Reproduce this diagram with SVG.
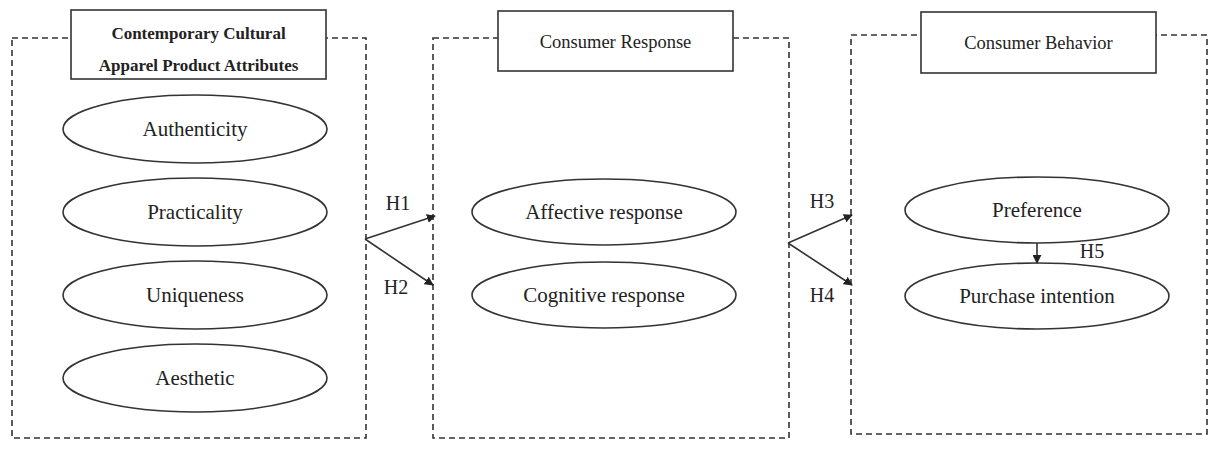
<svg xmlns="http://www.w3.org/2000/svg" width="1220" height="452" viewBox="0 0 1220 452">
<style>
.frame{fill:none;stroke:#333;stroke-width:1.6;stroke-dasharray:6,4}
.title{fill:#fff;stroke:#333;stroke-width:1.6}
.ell{fill:#fff;stroke:#333;stroke-width:1.6}
.t{font-family:"Liberation Serif","Times New Roman",serif;fill:#222;text-anchor:middle}
.et{font-size:21px}
.tt{font-size:18.5px}
.bt{font-size:17px;font-weight:bold}
.h{font-size:20px}
.conn{stroke:#333;stroke-width:1.6;fill:none}
</style>
<defs>
<marker id="ah" viewBox="0 0 10 10" refX="9" refY="5" markerWidth="9" markerHeight="9" markerUnits="userSpaceOnUse" orient="auto">
<path d="M0,0 L10,5 L0,10 z" fill="#222"/>
</marker>
</defs>
<g id="group-attributes">
<rect class="frame" x="12" y="38" width="354" height="400"/>
<rect class="title" x="71" y="10" width="255" height="69"/>
<text class="t bt" x="198.5" y="39">Contemporary Cultural</text>
<text class="t bt" x="198.5" y="71">Apparel Product Attributes</text>
</g>
<g id="group-response">
<rect class="frame" x="433" y="38" width="356" height="400"/>
<rect class="title" x="498" y="11" width="235" height="60"/>
<text class="t tt" x="615.5" y="48">Consumer Response</text>
</g>
<g id="group-behavior">
<rect class="frame" x="851" y="35" width="356" height="399"/>
<rect class="title" x="921" y="12" width="235" height="61"/>
<text class="t tt" x="1038.5" y="49">Consumer Behavior</text>
</g>
<g id="node-authenticity">
<ellipse class="ell" cx="195" cy="129" rx="132" ry="34"/>
<text class="t et" x="195" y="136">Authenticity</text>
</g>
<g id="node-practicality">
<ellipse class="ell" cx="195" cy="212" rx="132" ry="34"/>
<text class="t et" x="195" y="219">Practicality</text>
</g>
<g id="node-uniqueness">
<ellipse class="ell" cx="195" cy="295" rx="132" ry="34"/>
<text class="t et" x="195" y="302">Uniqueness</text>
</g>
<g id="node-aesthetic">
<ellipse class="ell" cx="195" cy="378" rx="132" ry="34"/>
<text class="t et" x="195" y="385">Aesthetic</text>
</g>
<g id="node-affective">
<ellipse class="ell" cx="604" cy="212" rx="132" ry="33"/>
<text class="t et" x="604" y="219">Affective response</text>
</g>
<g id="node-cognitive">
<ellipse class="ell" cx="604" cy="295" rx="132" ry="33"/>
<text class="t et" x="604" y="302">Cognitive response</text>
</g>
<g id="node-preference">
<ellipse class="ell" cx="1037" cy="210" rx="132" ry="33"/>
<text class="t et" x="1037" y="217">Preference</text>
</g>
<g id="node-purchase">
<ellipse class="ell" cx="1037" cy="296" rx="132" ry="33"/>
<text class="t et" x="1037" y="303">Purchase intention</text>
</g>
<g id="connectors">
<line class="conn" x1="365" y1="239" x2="435" y2="216" marker-end="url(#ah)"/>
<line class="conn" x1="365" y1="239" x2="433" y2="285" marker-end="url(#ah)"/>
<line class="conn" x1="788" y1="243" x2="852" y2="215" marker-end="url(#ah)"/>
<line class="conn" x1="788" y1="243" x2="852" y2="285" marker-end="url(#ah)"/>
<line class="conn" x1="1037" y1="243" x2="1037" y2="263" marker-end="url(#ah)"/>
<text class="t h" x="398" y="210">H1</text>
<text class="t h" x="396" y="294">H2</text>
<text class="t h" x="822" y="208">H3</text>
<text class="t h" x="822" y="302">H4</text>
<text class="t h" x="1092" y="258">H5</text>
</g>
</svg>
